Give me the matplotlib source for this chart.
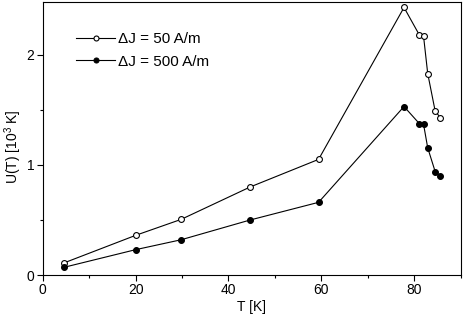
import matplotlib
matplotlib.use('Agg')
import matplotlib.pyplot as plt
from matplotlib.ticker import MultipleLocator

plt.rcParams['font.family'] = ['Liberation Sans', 'DejaVu Sans']
plt.rcParams['mathtext.default'] = 'regular'

# temperatures [K]
T = [4.6, 20.0, 29.8, 44.7, 59.4, 77.8, 81.1, 82.0, 82.9, 84.5, 85.6]
# U(T) in 10^3 K
u_50 = [0.11, 0.36, 0.505, 0.80, 1.05, 2.43, 2.18, 2.17, 1.83, 1.49, 1.43]
u_500 = [0.07, 0.23, 0.32, 0.50, 0.66, 1.53, 1.375, 1.37, 1.155, 0.94, 0.90]

fig = plt.figure(figsize=(4.63, 3.23), dpi=100)
ax = fig.add_axes([0.0922, 0.1486, 0.9028, 0.8454])

ax.plot(T, u_50, color='black', lw=0.8, marker='o', ms=4.2,
        mfc='white', mec='black', mew=0.8, label='\u0394J = 50 A/m')
ax.plot(T, u_500, color='black', lw=0.8, marker='o', ms=4.2,
        mfc='black', mec='black', mew=0.8, label='\u0394J = 500 A/m')

ax.set_xlim(0, 90)
ax.set_ylim(0, 2.48)
ax.xaxis.set_major_locator(MultipleLocator(20))
ax.xaxis.set_minor_locator(MultipleLocator(10))
ax.yaxis.set_major_locator(MultipleLocator(1))
ax.yaxis.set_minor_locator(MultipleLocator(0.5))
ax.tick_params(which='both', direction='out', top=False, right=False,
               labelsize=10, width=0.8)
ax.tick_params(which='major', length=4, pad=2)
ax.tick_params(which='minor', length=2.5)
for s in ax.spines.values():
    s.set_linewidth(0.8)

ax.set_xlabel('T [K]', fontsize=10, labelpad=2)
ax.set_ylabel(r'U(T) [10$^3$ K]', fontsize=10)
ax.yaxis.set_label_coords(-0.045, 0.469)

leg = ax.legend(loc='upper left', bbox_to_anchor=(0.08, 0.89), frameon=False,
                fontsize=11, handlelength=2.55, handletextpad=0.2,
                labelspacing=0.57, borderpad=0, borderaxespad=0, markerscale=0.85)

fig.savefig('out.png', dpi=100)
